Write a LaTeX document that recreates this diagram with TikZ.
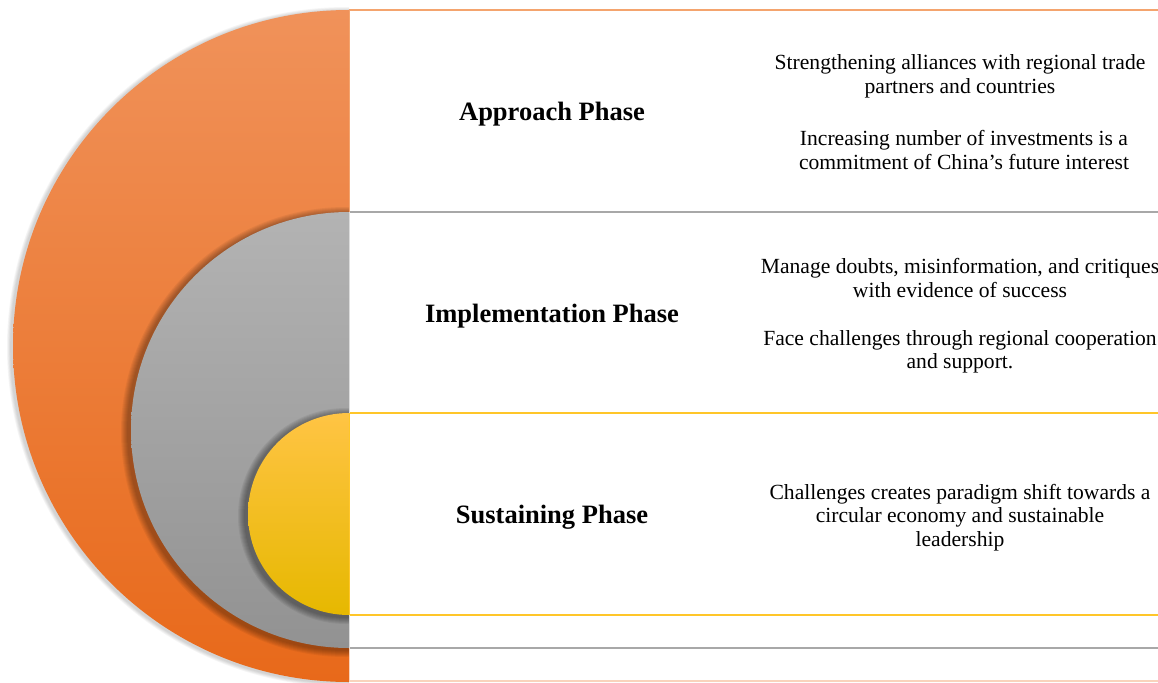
\documentclass[tikz,border=0pt]{standalone}
\usepackage{fontspec}
\setmainfont{Liberation Serif}
\begin{document}
\begin{tikzpicture}[x=1pt,y=-1pt,
  phase/.style={font=\fontsize{26.5}{30}\selectfont\bfseries, anchor=center},
  note/.style={font=\fontsize{21.6}{23.5}\selectfont, align=center, anchor=center, inner sep=0pt},
  rule/.style={line width=1.6pt}]
\definecolor{orTop}{HTML}{F0925A}
\definecolor{orMid}{HTML}{F5822F}
\definecolor{orBot}{HTML}{E8691A}
\definecolor{grTop}{HTML}{B3B3B3}
\definecolor{grBot}{HTML}{929292}
\definecolor{yeTop}{HTML}{FFC444}
\definecolor{yeMid}{HTML}{FFC000}
\definecolor{yeBot}{HTML}{E6B800}
\definecolor{orLine}{HTML}{F4A46E}
\definecolor{grLine}{HTML}{A8A8A8}
\definecolor{yeLine}{HTML}{FFC629}
\definecolor{orPale}{HTML}{F9D3BC}
\useasboundingbox (0,0) rectangle (1158,682);
\fill[white] (0,0) rectangle (1158,682);

% nested half discs, cut at the vertical x = 349
\begin{scope}
  \clip (0,0) rectangle (349,682);
  % outer orange
  \foreach \i in {1,...,5} \fill[black,opacity=0.035] (347,347) circle (336+\i*0.8);
  \shade[top color=orTop, middle color=orMid, bottom color=orBot] (349,346) circle (336);
  % grey
  \foreach \i in {1,...,7} \fill[black,opacity=0.05] (346,432) circle (218+\i*1.0);
  \shade[top color=grTop, bottom color=grBot] (349,430) circle (218);
  % yellow
  \foreach \i in {1,...,7} \fill[black,opacity=0.06] (346,516) circle (101+\i*1.0);
  \shade[top color=yeTop, middle color=yeMid, bottom color=yeBot] (349,514) circle (101);
\end{scope}

% band separators
\coordinate (o1) at (349,10);   \coordinate (o2) at (1158,10);
\coordinate (g1) at (349,212);  \coordinate (g2) at (1158,212);
\coordinate (y1) at (349,413);  \coordinate (y2) at (1158,413);
\coordinate (y3) at (349,615);  \coordinate (y4) at (1158,615);
\coordinate (g3) at (349,648);  \coordinate (g4) at (1158,648);
\coordinate (o3) at (349,681);  \coordinate (o4) at (1158,681);
\draw[rule,orLine] (o1) -- (o2);
\draw[rule,grLine] (g1) -- (g2);
\draw[rule,yeLine] (y1) -- (y2);
\draw[rule,yeLine] (y3) -- (y4);
\draw[rule,grLine] (g3) -- (g4);
\draw[rule,orPale] (o3) -- (o4);
\draw[line width=0.8pt,orLine] (o1) -- (g1);
\draw[line width=0.8pt,grLine!40] (g1) -- (y1);
\draw[line width=0.8pt,yeLine] (y1) -- (y3);
\draw[line width=0.8pt,grLine!40] (y3) -- (g3);
\draw[line width=0.8pt,orPale] (g3) -- (o3);

% phase titles
\node[phase] (p1) at (552,114) {Approach Phase};
\node[phase] (p2) at (552,316) {Implementation Phase};
\node[phase] (p3) at (552,517) {Sustaining Phase};

% descriptions
\node[note] (n1a) at (960,76.5) {Strengthening alliances with regional trade\\partners and countries};
\node[note] (n1b) at (964,150) {Increasing number of investments is a\\commitment of China’s future interest};
\node[note] (n2a) at (960,278) {Manage doubts, misinformation, and critiques\\with evidence of success};
\node[note] (n2b) at (960,352) {Face challenges through regional cooperation\\and support.};
\node[note] (n3) at (960,517.5) {Challenges creates paradigm shift towards a\\circular economy and sustainable\\leadership};
\end{tikzpicture}
\end{document}
